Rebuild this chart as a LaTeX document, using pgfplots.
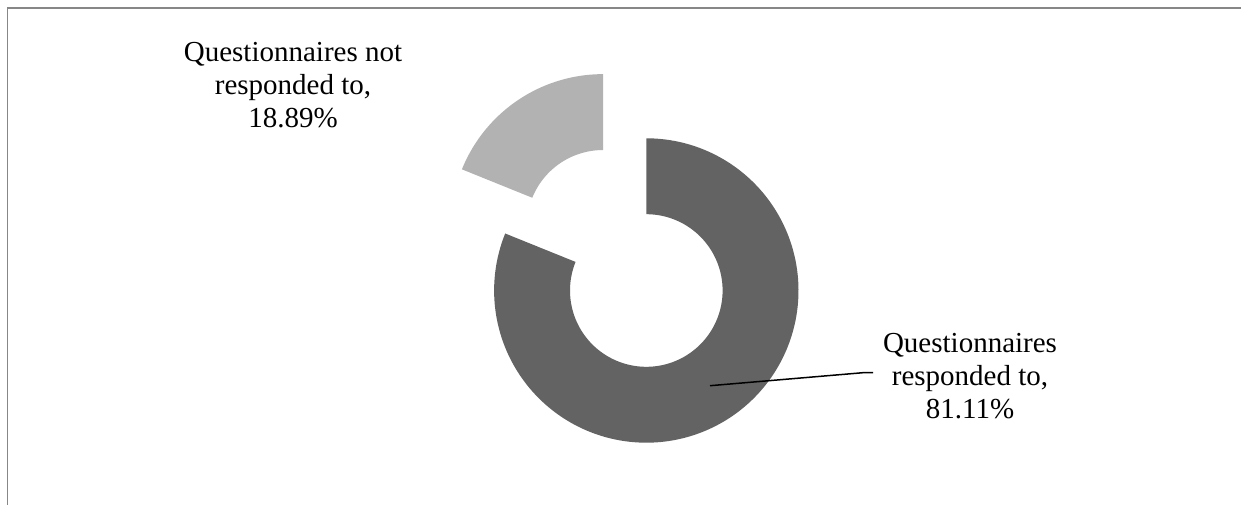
\documentclass[border=0pt]{standalone}
\usepackage{pgfplots}
\pgfplotsset{compat=1.18}
\usepgfplotslibrary{fillbetween}
\usepackage{fontspec}
\setmainfont{Liberation Serif}
\definecolor{darkslice}{RGB}{99,99,99}
\definecolor{lightslice}{RGB}{178,178,178}
\definecolor{framegray}{RGB}{135,135,135}
\begin{document}%
\begin{tikzpicture}
% data: shares in percent
\def\vResp{81.11}
\def\vNot{18.89}
\pgfmathsetmacro{\splitang}{90+360*\vNot/100}
\pgfmathsetmacro{\startbig}{\splitang-360}
\pgfmathsetmacro{\bis}{(90+\splitang)/2}
\pgfmathsetmacro{\cxs}{646.3+77.4*cos(\bis)}
\pgfmathsetmacro{\cys}{213.5+77.4*sin(\bis)}
\begin{axis}[
  scale only axis, width=620.5pt, height=252pt,
  xmin=0, xmax=1241, ymin=0, ymax=504,
  hide axis, clip=true,
]
\path (axis cs:0,0) rectangle (axis cs:1241,504);
% frame (top and left edges)
\addplot[framegray, line width=0.8pt] coordinates {(7.3,-2) (7.3,495.7) (1245,495.7)};
% big slice: responded
\addplot[draw=none, name path=bo, domain=\startbig:90, samples=200] ({646.3+152.2*cos(x)},{213.5+152.2*sin(x)});
\addplot[draw=none, name path=bi, domain=\startbig:90, samples=200] ({646.3+76.3*cos(x)},{213.5+76.3*sin(x)});
\addplot[darkslice, draw=none] fill between[of=bo and bi];
% small slice: not responded (exploded)
\addplot[draw=none, name path=so, domain=90:\splitang, samples=80] ({\cxs+152.2*cos(x)},{\cys+152.2*sin(x)});
\addplot[draw=none, name path=si, domain=90:\splitang, samples=80] ({\cxs+76.3*cos(x)},{\cys+76.3*sin(x)});
\addplot[lightslice, draw=none] fill between[of=so and si];
% leader line
\addplot[black, line width=0.75pt] coordinates {(710,118.3) (863,131.3) (873,131.3)};
% labels
\node[anchor=base, inner sep=0pt, font=\fontsize{14.5}{16}\selectfont] at (axis cs:293,442) {Questionnaires not};
\node[anchor=base, inner sep=0pt, font=\fontsize{14.5}{16}\selectfont] at (axis cs:293,409) {responded to,};
\node[anchor=base, inner sep=0pt, font=\fontsize{14.5}{16}\selectfont] at (axis cs:293,376) {18.89\%};
\node[anchor=base, inner sep=0pt, font=\fontsize{14.5}{16}\selectfont] at (axis cs:970,152) {Questionnaires};
\node[anchor=base, inner sep=0pt, font=\fontsize{14.5}{16}\selectfont] at (axis cs:970,119) {responded to,};
\node[anchor=base, inner sep=0pt, font=\fontsize{14.5}{16}\selectfont] at (axis cs:970,86) {81.11\%};
\end{axis}
\end{tikzpicture}%
\end{document}
